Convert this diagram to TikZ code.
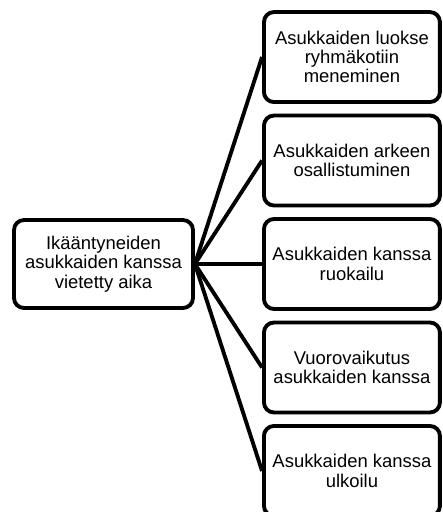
\documentclass[tikz,border=0pt]{standalone}
\usepackage{fontspec}
\setmainfont{Liberation Sans}
\usepackage{xcolor}
\usepackage{tikz}
\usetikzlibrary{trees}
\definecolor{boxline}{RGB}{0, 0, 0}
\definecolor{boxfill}{RGB}{255, 255, 255}
\tikzset{
    topicnode/.style={
        draw=boxline, line width=2.2pt, rounded corners=0.2cm, fill=boxfill,
        align=center, inner sep=2pt, font=\fontsize{10.5}{11}\selectfont,
        minimum width=3.58cm, minimum height=1.76cm
    },
    subnode/.style={
        topicnode, minimum width=3.52cm, minimum height=1.8cm
    }
}
\begin{document}
\begin{tikzpicture}[
        x=0.02cm, y=0.02cm,
        % Puun asetukset
        grow'=right,
        level distance=4.97cm,
        sibling distance=2.07cm,
        edge from parent/.style={draw, line width=2.2pt, boxline},
        edge from parent path={(\tikzparentnode.east) -- (\tikzchildnode.west)}
    ]
        \useasboundingbox (0,0) rectangle (443,-512);

        % ======================================
        % PÄÄLAATIKKO JA ALALAATIKOT
        % ======================================
        \node[topicnode] (aika) at (103.5,-264) {Ikääntyneiden\\asukkaiden kanssa\\vietetty aika}
            child { node[subnode] (luokse) {Asukkaiden luokse\\ryhmäkotiin\\meneminen} }
            child { node[subnode] (arki) {Asukkaiden arkeen\\osallistuminen} }
            child { node[subnode] (ruokailu) {Asukkaiden kanssa\\ruokailu} }
            child { node[subnode] (vuoro) {Vuorovaikutus\\asukkaiden kanssa} }
            child { node[subnode] (ulkoilu) {Asukkaiden kanssa\\ulkoilu} };

    \end{tikzpicture}
\end{document}
